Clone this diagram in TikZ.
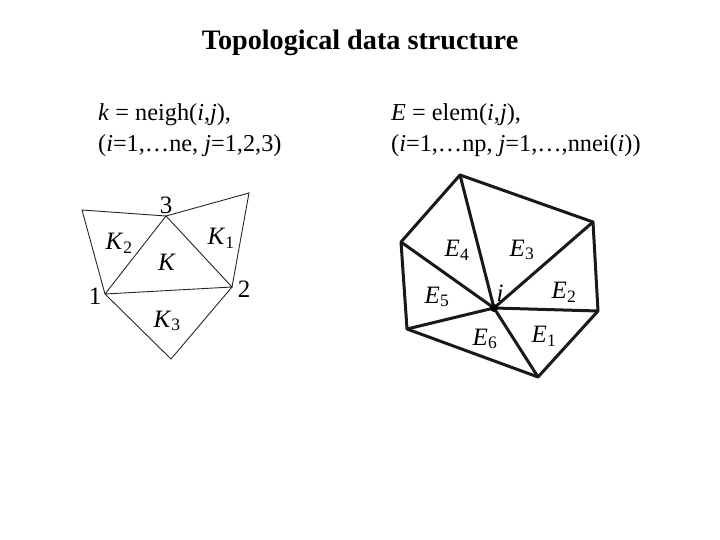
\documentclass[tikz,border=0pt]{standalone}
\usepackage{fontspec}
\setmainfont{Liberation Serif}
\usepackage{xcolor}
\usetikzlibrary{positioning}
\newcommand{\sym}[2]{\textit{#1}\textsubscript{#2}}

\begin{document}
\begin{tikzpicture}[
    x=1pt, y=-1pt,
    thinedge/.style={line width=0.9pt, color=black!85},
    thickedge/.style={line width=3pt, color=black!90, line join=round},
    vertex/.style={coordinate},
    title/.style={font=\bfseries\fontsize{28.2}{32}\selectfont, inner sep=0pt},
    formula/.style={font=\fontsize{24.3}{31}\selectfont, align=left, inner sep=0pt},
    lab/.style={font=\fontsize{25}{27}\selectfont, inner sep=0pt}
]
    \useasboundingbox (0, 0) rectangle (720, 540);

    \node[title, anchor=base] (head) at (360, 50) {Topological data structure};
    \node[formula, anchor=north west] (neigh) at (98, 103.5) {\textit{k} = neigh(\textit{i},\textit{j}),\\(\textit{i}=1,…ne, \textit{j}=1,2,3)};
    \node[formula, anchor=north west] (elem) at (391, 103.5) {\textit{E} = elem(\textit{i},\textit{j}),\\(\textit{i}=1,…np, \textit{j}=1,…,nnei(\textit{i}))};

    % left mesh
    \node[vertex] (v1) at (105, 294) {};
    \node[vertex] (v2) at (232, 287) {};
    \node[vertex] (v3) at (166, 216) {};
    \node[vertex] (ntl) at (82, 210) {};
    \node[vertex] (ntr) at (249, 193) {};
    \node[vertex] (nbt) at (171, 359) {};

    \draw[thinedge] (v1) -- (v2) -- (v3) -- (v1);
    \draw[thinedge] (v1) -- (ntl) -- (v3) -- (ntr) -- (v2) -- (nbt) -- (v1);

    \node[lab] (n3) at (166, 205) {3};
    \node[lab] (n1) at (95, 296) {1};
    \node[lab] (n2) at (244, 289) {2};
    \node[lab] (k) at (167, 262) {\textit{K}};
    \node[lab] (k1) at (221, 238) {\sym{K}{1}};
    \node[lab] (k2) at (119, 243) {\sym{K}{2}};
    \node[lab] (k3) at (167, 321) {\sym{K}{3}};

    % right mesh
    \node[vertex] (pc) at (494, 308) {};
    \node[vertex] (pa) at (460, 175) {};
    \node[vertex] (pb) at (593, 222) {};
    \node[vertex] (pd) at (598, 311) {};
    \node[vertex] (pe) at (538, 377) {};
    \node[vertex] (pf) at (407, 329) {};
    \node[vertex] (pg) at (401, 242) {};

    \draw[thickedge] (pa) -- (pb) -- (pd) -- (pe) -- (pf) -- (pg) -- cycle;
    \foreach \p in {pa, pb, pd, pe, pf, pg}
        \draw[thickedge] (pc) -- (\p);
    \fill (pc) circle (4pt);

    \node[lab] (e1) at (544, 336) {\sym{E}{1}};
    \node[lab] (e2) at (564, 292) {\sym{E}{2}};
    \node[lab] (e3) at (522, 250) {\sym{E}{3}};
    \node[lab] (e4) at (457, 250) {\sym{E}{4}};
    \node[lab] (e5) at (437, 297) {\sym{E}{5}};
    \node[lab] (e6) at (485, 339) {\sym{E}{6}};
    \node[lab] (ci) at (500, 293) {\textit{i}};
\end{tikzpicture}
\end{document}
